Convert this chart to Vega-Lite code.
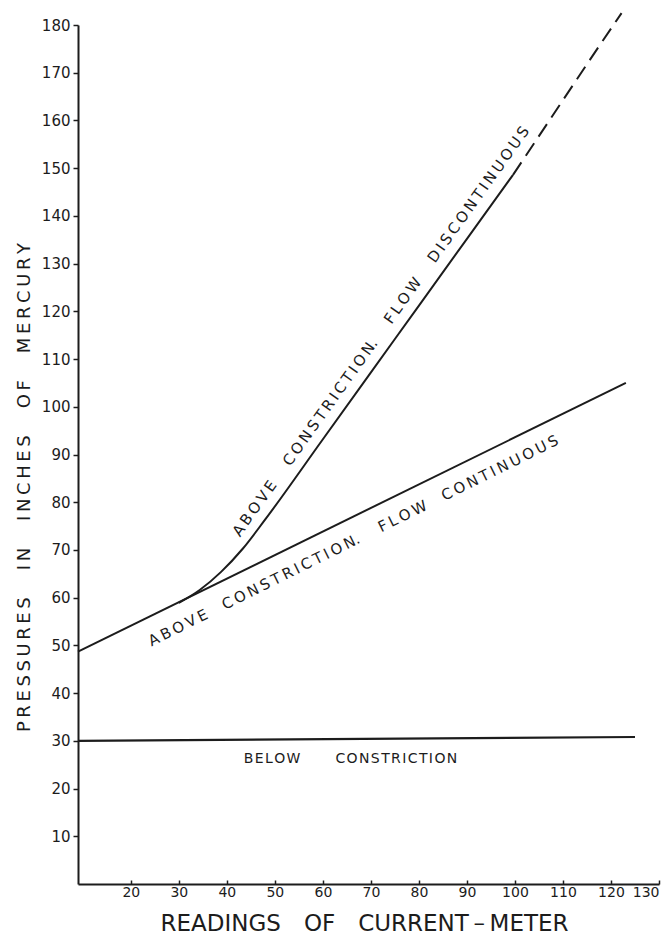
{
  "$schema": "https://vega.github.io/schema/vega-lite/v6.json",
  "width": 581,
  "height": 859,
  "autosize": {"type": "none"},
  "padding": {"left": 78, "top": 25, "right": 13, "bottom": 51},
  "background": "#ffffff",
  "config": {"view": {"stroke": null}, "font": "DejaVu Sans"},
  "datasets": {
    "curves": [
      {"curve": "below", "x": 9, "y": 30.0},
      {"curve": "below", "x": 125, "y": 30.8},
      {"curve": "continuous", "x": 9, "y": 48.7},
      {"curve": "continuous", "x": 123.1, "y": 105.0},
      {"curve": "disc_solid", "x": 30, "y": 58.9},
      {"curve": "disc_solid", "x": 34.35, "y": 61.6},
      {"curve": "disc_solid", "x": 38.8, "y": 65.4},
      {"curve": "disc_solid", "x": 43.35, "y": 70.3},
      {"curve": "disc_solid", "x": 48, "y": 76.4},
      {"curve": "disc_solid", "x": 60, "y": 93.2},
      {"curve": "disc_solid", "x": 75, "y": 114.2},
      {"curve": "disc_solid", "x": 90, "y": 135.2},
      {"curve": "disc_solid", "x": 99.6, "y": 148.6},
      {"curve": "disc_dashed", "x": 99.6, "y": 148.6},
      {"curve": "disc_dashed", "x": 115.6, "y": 172.7},
      {"curve": "disc_dashed", "x": 122.2, "y": 182.5}
    ],
    "labels": [
      {"label": "disc", "x": 72.9, "y": 115.2, "text": "A\u2009B\u2009O\u2009V\u2009E\u2003\u2002C\u2009O\u2009N\u2009S\u2009T\u2009R\u2009I\u2009C\u2009T\u2009I\u2009O\u2009N.\u2003\u2002F\u2009L\u2009O\u2009W\u2003\u2002D\u2009I\u2009S\u2009C\u2009O\u2009N\u2009T\u2009I\u2009N\u2009U\u2009O\u2009U\u2009S"},
      {"label": "cont", "x": 66.8, "y": 71.0, "text": "A\u2009B\u2009O\u2009V\u2009E\u2003\u2009C\u2009O\u2009N\u2009S\u2009T\u2009R\u2009I\u2009C\u2009T\u2009I\u2009O\u2009N.\u2003\u2002F\u2009L\u2009O\u2009W\u2003\u2009C\u2009O\u2009N\u2009T\u2009I\u2009N\u2009U\u2009O\u2009U\u2009S"},
      {"label": "below", "x": 65.75, "y": 25.4, "text": "B\u200aE\u200aL\u200aO\u200aW\u2003\u2003\u2002C\u200aO\u200aN\u200aS\u200aT\u200aR\u200aI\u200aC\u200aT\u200aI\u200aO\u200aN"}
    ]
  },
  "encoding": {
    "x": {
      "field": "x",
      "type": "quantitative",
      "scale": {"domain": [9, 130], "nice": false, "zero": false},
      "axis": {
        "values": [20, 30, 40, 50, 60, 70, 80, 90, 100, 110, 120, 130],
        "grid": false,
        "title": "READINGS\u2003OF\u2003CURRENT\u2009\u2013\u2009METER",
        "titleFont": "DejaVu Sans",
        "titleFontSize": 23,
        "titleFontWeight": "normal",
        "titleColor": "#1c1c1c",
        "titleX": 286,
        "titleY": 46,
        "titleBaseline": "alphabetic",
        "titleAlign": "center",
        "domainColor": "#1c1c1c",
        "domainWidth": 2,
        "tickColor": "#1c1c1c",
        "tickWidth": 1.5,
        "tickSize": -4,
        "labelFont": "DejaVu Sans",
        "labelFontSize": 14,
        "labelColor": "#1c1c1c",
        "labelPadding": 5
      }
    },
    "y": {
      "field": "y",
      "type": "quantitative",
      "scale": {"domain": [0, 180], "nice": false, "zero": true},
      "axis": {
        "values": [10, 20, 30, 40, 50, 60, 70, 80, 90, 100, 110, 120, 130, 140, 150, 160, 170, 180],
        "grid": false,
        "title": "P\u2009R\u2009E\u2009S\u2009S\u2009U\u2009R\u2009E\u2009S\u2003\u2002I\u2009N\u2003\u2002I\u2009N\u2009C\u2009H\u2009E\u2009S\u2003\u2002O\u2009F\u2003\u2002M\u2009E\u2009R\u2009C\u2009U\u2009R\u2009Y",
        "titleFont": "DejaVu Sans",
        "titleFontSize": 18,
        "titleFontWeight": "normal",
        "titleColor": "#1c1c1c",
        "titleAngle": -90,
        "titleX": -49,
        "titleY": 462,
        "titleBaseline": "alphabetic",
        "titleAlign": "center",
        "domainColor": "#1c1c1c",
        "domainWidth": 2,
        "tickColor": "#1c1c1c",
        "tickWidth": 1.5,
        "tickSize": 5,
        "labelFont": "DejaVu Sans",
        "labelFontSize": 15,
        "labelColor": "#1c1c1c",
        "labelPadding": 3
      }
    }
  },
  "layer": [
    {
      "data": {"name": "curves"},
      "transform": [{"filter": "datum.curve === 'below'"}],
      "mark": {"type": "line", "color": "#1c1c1c", "strokeWidth": 2.2}
    },
    {
      "data": {"name": "curves"},
      "transform": [{"filter": "datum.curve === 'continuous'"}],
      "mark": {"type": "line", "color": "#1c1c1c", "strokeWidth": 2}
    },
    {
      "data": {"name": "curves"},
      "transform": [{"filter": "datum.curve === 'disc_solid'"}],
      "mark": {"type": "line", "color": "#1c1c1c", "strokeWidth": 2, "interpolate": "monotone"}
    },
    {
      "data": {"name": "curves"},
      "transform": [{"filter": "datum.curve === 'disc_dashed'"}],
      "mark": {"type": "line", "color": "#1c1c1c", "strokeWidth": 2, "strokeDash": [15, 8]}
    },
    {
      "data": {"name": "labels"},
      "transform": [{"filter": "datum.label === 'disc'"}],
      "mark": {"type": "text", "angle": -54.5, "align": "center", "baseline": "alphabetic", "fontSize": 15, "font": "DejaVu Sans", "color": "#1c1c1c"},
      "encoding": {"text": {"field": "text"}}
    },
    {
      "data": {"name": "labels"},
      "transform": [{"filter": "datum.label === 'cont'"}],
      "mark": {"type": "text", "angle": -26.4, "align": "center", "baseline": "alphabetic", "fontSize": 15, "font": "DejaVu Sans", "color": "#1c1c1c"},
      "encoding": {"text": {"field": "text"}}
    },
    {
      "data": {"name": "labels"},
      "transform": [{"filter": "datum.label === 'below'"}],
      "mark": {"type": "text", "angle": 0, "align": "center", "baseline": "alphabetic", "fontSize": 14, "font": "DejaVu Sans", "color": "#1c1c1c"},
      "encoding": {"text": {"field": "text"}}
    }
  ]
}
